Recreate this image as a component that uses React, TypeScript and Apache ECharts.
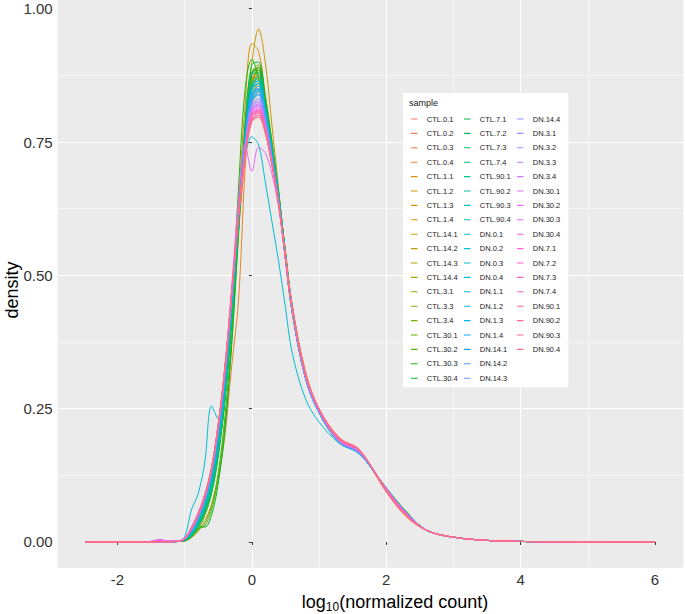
import React, { useEffect, useRef } from "react";
import * as echarts from "echarts";

const SAMPLES = [
  "CTL.0.1", "CTL.0.2", "CTL.0.3", "CTL.0.4", "CTL.1.1", "CTL.1.2", "CTL.1.3", "CTL.1.4",
  "CTL.14.1", "CTL.14.2", "CTL.14.3", "CTL.14.4", "CTL.3.1", "CTL.3.3", "CTL.3.4",
  "CTL.30.1", "CTL.30.2", "CTL.30.3", "CTL.30.4", "CTL.7.1", "CTL.7.2", "CTL.7.3", "CTL.7.4",
  "CTL.90.1", "CTL.90.2", "CTL.90.3", "CTL.90.4", "DN.0.1", "DN.0.2", "DN.0.3", "DN.0.4",
  "DN.1.1", "DN.1.2", "DN.1.3", "DN.1.4", "DN.14.1", "DN.14.2", "DN.14.3", "DN.14.4",
  "DN.3.1", "DN.3.2", "DN.3.3", "DN.3.4", "DN.30.1", "DN.30.2", "DN.30.3", "DN.30.4",
  "DN.7.1", "DN.7.2", "DN.7.3", "DN.7.4", "DN.90.1", "DN.90.2", "DN.90.3", "DN.90.4",
];

// samples with the small bump near -1.37
const BUMP_SAMPLES = ["DN.3.1", "DN.3.2", "DN.3.3", "DN.3.4", "DN.30.1", "DN.30.2", "DN.30.3", "DN.30.4", "DN.14.4"];

const X_LEFT = [-2.47, -1.8, -1.5, -1.37, -1.25, -1.1];
const LEFT_FLAT = [0, 0, 0, 0.0005, 0.0005, 0.001];
const LEFT_BUMP = [0, 0, 0.001, 0.004, 0.0015, 0.002];

const X_CORE = [-1.0, -0.9, -0.8, -0.7, -0.6, -0.5, -0.4, -0.3, -0.2, -0.1, 0, 0.1, 0.2, 0.3, 0.4, 0.5, 0.6, 0.8, 1.0, 1.3, 1.6, 2.0, 2.3];

const X_RIGHT = [2.6, 3.0, 3.5, 4.0, 5.0, 6.0];
const RIGHT_TAIL = [0.022, 0.009, 0.003, 0.001, 0.0002, 0];

// density values at X_CORE, one row per sample (same order as SAMPLES)
const CORE_VALUES: number[][] = [
  [0.004, 0.016, 0.038, 0.07, 0.115, 0.19, 0.29, 0.43, 0.59, 0.73, 0.83, 0.855, 0.8, 0.72, 0.64, 0.54, 0.44, 0.315, 0.25, 0.195, 0.172, 0.095, 0.048],
  [0.004, 0.015, 0.036, 0.068, 0.11, 0.185, 0.28, 0.42, 0.58, 0.72, 0.82, 0.845, 0.795, 0.72, 0.645, 0.545, 0.445, 0.32, 0.25, 0.196, 0.17, 0.094, 0.047],
  [0.003, 0.013, 0.033, 0.063, 0.105, 0.18, 0.28, 0.43, 0.6, 0.75, 0.85, 0.875, 0.81, 0.73, 0.645, 0.54, 0.44, 0.315, 0.248, 0.194, 0.171, 0.096, 0.049],
  [0.002, 0.008, 0.02, 0.04, 0.07, 0.12, 0.2, 0.33, 0.45, 0.7, 0.86, 0.885, 0.82, 0.74, 0.65, 0.545, 0.44, 0.315, 0.245, 0.193, 0.17, 0.096, 0.05],
  [0.003, 0.012, 0.03, 0.06, 0.1, 0.17, 0.27, 0.42, 0.59, 0.75, 0.86, 0.89, 0.83, 0.74, 0.65, 0.54, 0.44, 0.31, 0.245, 0.19, 0.17, 0.098, 0.052],
  [0.003, 0.011, 0.028, 0.055, 0.095, 0.165, 0.27, 0.43, 0.63, 0.82, 0.935, 0.92, 0.84, 0.75, 0.655, 0.54, 0.435, 0.31, 0.243, 0.19, 0.168, 0.097, 0.052],
  [0.003, 0.013, 0.032, 0.062, 0.1, 0.175, 0.275, 0.42, 0.59, 0.74, 0.85, 0.875, 0.82, 0.74, 0.65, 0.54, 0.44, 0.313, 0.246, 0.191, 0.17, 0.099, 0.053],
  [0.004, 0.014, 0.034, 0.065, 0.105, 0.18, 0.28, 0.425, 0.59, 0.735, 0.835, 0.86, 0.81, 0.735, 0.65, 0.545, 0.445, 0.315, 0.247, 0.19, 0.169, 0.098, 0.052],
  [0.003, 0.012, 0.03, 0.06, 0.1, 0.17, 0.27, 0.42, 0.6, 0.78, 0.9, 0.962, 0.9, 0.78, 0.66, 0.53, 0.43, 0.31, 0.245, 0.19, 0.168, 0.098, 0.053],
  [0.003, 0.013, 0.032, 0.062, 0.102, 0.175, 0.28, 0.43, 0.6, 0.755, 0.86, 0.88, 0.82, 0.74, 0.65, 0.54, 0.44, 0.312, 0.246, 0.19, 0.169, 0.1, 0.054],
  [0.004, 0.014, 0.034, 0.064, 0.105, 0.178, 0.28, 0.425, 0.595, 0.745, 0.85, 0.87, 0.815, 0.735, 0.648, 0.54, 0.44, 0.313, 0.246, 0.19, 0.17, 0.1, 0.054],
  [0.003, 0.012, 0.031, 0.06, 0.1, 0.172, 0.275, 0.425, 0.6, 0.76, 0.865, 0.885, 0.825, 0.74, 0.65, 0.538, 0.438, 0.31, 0.245, 0.19, 0.169, 0.1, 0.055],
  [0.003, 0.011, 0.028, 0.056, 0.095, 0.165, 0.265, 0.415, 0.595, 0.765, 0.875, 0.89, 0.83, 0.745, 0.652, 0.54, 0.438, 0.31, 0.244, 0.188, 0.168, 0.101, 0.056],
  [0.003, 0.012, 0.03, 0.058, 0.098, 0.17, 0.27, 0.42, 0.6, 0.76, 0.87, 0.88, 0.825, 0.742, 0.65, 0.54, 0.44, 0.311, 0.245, 0.188, 0.167, 0.1, 0.056],
  [0.004, 0.013, 0.032, 0.062, 0.1, 0.172, 0.272, 0.42, 0.595, 0.75, 0.855, 0.87, 0.82, 0.74, 0.65, 0.54, 0.44, 0.312, 0.245, 0.189, 0.168, 0.1, 0.055],
  [0.002, 0.012, 0.025, 0.03, 0.06, 0.12, 0.22, 0.37, 0.57, 0.76, 0.88, 0.895, 0.835, 0.75, 0.655, 0.54, 0.438, 0.31, 0.244, 0.187, 0.167, 0.102, 0.057],
  [0.002, 0.01, 0.022, 0.035, 0.068, 0.13, 0.235, 0.39, 0.58, 0.765, 0.88, 0.89, 0.83, 0.745, 0.652, 0.54, 0.438, 0.31, 0.244, 0.187, 0.167, 0.101, 0.056],
  [0.002, 0.009, 0.024, 0.05, 0.09, 0.16, 0.27, 0.44, 0.66, 0.85, 0.905, 0.87, 0.8, 0.725, 0.645, 0.54, 0.44, 0.31, 0.243, 0.186, 0.166, 0.101, 0.056],
  [0.002, 0.012, 0.03, 0.028, 0.05, 0.11, 0.21, 0.37, 0.58, 0.79, 0.895, 0.9, 0.83, 0.745, 0.65, 0.54, 0.438, 0.31, 0.243, 0.186, 0.166, 0.1, 0.056],
  [0.003, 0.012, 0.03, 0.058, 0.098, 0.168, 0.27, 0.42, 0.6, 0.77, 0.88, 0.885, 0.825, 0.742, 0.65, 0.54, 0.44, 0.31, 0.244, 0.187, 0.167, 0.1, 0.055],
  [0.003, 0.013, 0.031, 0.06, 0.1, 0.17, 0.272, 0.42, 0.595, 0.755, 0.86, 0.875, 0.82, 0.74, 0.65, 0.54, 0.44, 0.311, 0.245, 0.188, 0.168, 0.1, 0.055],
  [0.003, 0.012, 0.03, 0.057, 0.096, 0.166, 0.268, 0.418, 0.6, 0.77, 0.878, 0.88, 0.82, 0.738, 0.648, 0.54, 0.44, 0.31, 0.244, 0.187, 0.167, 0.101, 0.056],
  [0.004, 0.014, 0.033, 0.063, 0.103, 0.175, 0.278, 0.425, 0.6, 0.75, 0.85, 0.865, 0.815, 0.738, 0.65, 0.54, 0.44, 0.312, 0.246, 0.189, 0.168, 0.1, 0.055],
  [0.004, 0.015, 0.035, 0.066, 0.108, 0.18, 0.285, 0.43, 0.6, 0.745, 0.845, 0.86, 0.81, 0.735, 0.648, 0.54, 0.44, 0.312, 0.246, 0.188, 0.168, 0.1, 0.055],
  [0.003, 0.013, 0.032, 0.062, 0.102, 0.174, 0.276, 0.424, 0.6, 0.755, 0.858, 0.87, 0.815, 0.738, 0.65, 0.54, 0.44, 0.311, 0.245, 0.188, 0.167, 0.1, 0.055],
  [0.004, 0.015, 0.036, 0.068, 0.11, 0.184, 0.288, 0.432, 0.6, 0.74, 0.835, 0.85, 0.805, 0.732, 0.648, 0.542, 0.442, 0.313, 0.246, 0.189, 0.168, 0.099, 0.054],
  [0.004, 0.016, 0.038, 0.07, 0.114, 0.19, 0.295, 0.44, 0.605, 0.74, 0.83, 0.845, 0.8, 0.73, 0.647, 0.542, 0.442, 0.314, 0.247, 0.189, 0.168, 0.099, 0.054],
  [0.005, 0.02, 0.045, 0.08, 0.13, 0.21, 0.32, 0.46, 0.62, 0.75, 0.84, 0.855, 0.8, 0.72, 0.635, 0.53, 0.43, 0.305, 0.242, 0.186, 0.166, 0.1, 0.055],
  [0.005, 0.019, 0.044, 0.078, 0.126, 0.205, 0.31, 0.455, 0.615, 0.748, 0.838, 0.85, 0.798, 0.72, 0.636, 0.53, 0.432, 0.306, 0.243, 0.187, 0.166, 0.1, 0.055],
  [0.01, 0.06, 0.09, 0.15, 0.255, 0.23, 0.33, 0.47, 0.62, 0.72, 0.76, 0.745, 0.675, 0.6, 0.525, 0.44, 0.355, 0.268, 0.225, 0.185, 0.165, 0.1, 0.055],
  [0.005, 0.02, 0.046, 0.08, 0.128, 0.208, 0.315, 0.455, 0.61, 0.74, 0.83, 0.845, 0.795, 0.72, 0.637, 0.532, 0.433, 0.307, 0.243, 0.187, 0.167, 0.1, 0.055],
  [0.005, 0.019, 0.043, 0.077, 0.125, 0.2, 0.305, 0.45, 0.615, 0.755, 0.85, 0.86, 0.805, 0.725, 0.64, 0.533, 0.433, 0.307, 0.243, 0.187, 0.166, 0.1, 0.055],
  [0.005, 0.02, 0.045, 0.08, 0.13, 0.21, 0.318, 0.46, 0.62, 0.75, 0.84, 0.85, 0.8, 0.722, 0.638, 0.532, 0.433, 0.307, 0.243, 0.187, 0.166, 0.1, 0.055],
  [0.005, 0.021, 0.047, 0.082, 0.132, 0.212, 0.32, 0.46, 0.615, 0.742, 0.828, 0.84, 0.792, 0.718, 0.636, 0.532, 0.434, 0.308, 0.244, 0.188, 0.167, 0.099, 0.055],
  [0.004, 0.018, 0.042, 0.075, 0.122, 0.198, 0.302, 0.448, 0.615, 0.76, 0.855, 0.865, 0.808, 0.726, 0.64, 0.533, 0.433, 0.306, 0.243, 0.187, 0.166, 0.1, 0.055],
  [0.005, 0.02, 0.045, 0.079, 0.128, 0.207, 0.313, 0.455, 0.612, 0.745, 0.835, 0.848, 0.798, 0.72, 0.637, 0.532, 0.433, 0.307, 0.243, 0.187, 0.167, 0.1, 0.055],
  [0.005, 0.021, 0.046, 0.081, 0.13, 0.21, 0.316, 0.458, 0.612, 0.74, 0.825, 0.838, 0.79, 0.716, 0.635, 0.531, 0.434, 0.308, 0.244, 0.188, 0.167, 0.099, 0.054],
  [0.005, 0.02, 0.044, 0.078, 0.127, 0.205, 0.31, 0.452, 0.61, 0.745, 0.838, 0.85, 0.8, 0.722, 0.638, 0.532, 0.433, 0.307, 0.243, 0.187, 0.166, 0.1, 0.055],
  [0.006, 0.022, 0.048, 0.083, 0.133, 0.213, 0.318, 0.46, 0.612, 0.738, 0.82, 0.832, 0.788, 0.715, 0.635, 0.532, 0.435, 0.309, 0.245, 0.188, 0.168, 0.1, 0.054],
  [0.007, 0.025, 0.05, 0.085, 0.135, 0.215, 0.32, 0.46, 0.61, 0.735, 0.815, 0.825, 0.783, 0.712, 0.634, 0.532, 0.436, 0.31, 0.246, 0.189, 0.169, 0.1, 0.054],
  [0.007, 0.026, 0.052, 0.087, 0.137, 0.217, 0.322, 0.462, 0.61, 0.73, 0.81, 0.82, 0.78, 0.71, 0.633, 0.532, 0.436, 0.31, 0.246, 0.19, 0.17, 0.1, 0.053],
  [0.006, 0.024, 0.049, 0.084, 0.134, 0.214, 0.319, 0.46, 0.612, 0.738, 0.818, 0.828, 0.785, 0.713, 0.634, 0.532, 0.435, 0.31, 0.246, 0.189, 0.169, 0.1, 0.054],
  [0.007, 0.025, 0.051, 0.086, 0.136, 0.216, 0.321, 0.461, 0.61, 0.732, 0.812, 0.822, 0.781, 0.711, 0.633, 0.532, 0.436, 0.31, 0.246, 0.19, 0.17, 0.1, 0.053],
  [0.007, 0.026, 0.052, 0.088, 0.138, 0.218, 0.324, 0.463, 0.61, 0.728, 0.805, 0.815, 0.777, 0.71, 0.633, 0.533, 0.437, 0.311, 0.247, 0.19, 0.17, 0.099, 0.053],
  [0.008, 0.028, 0.055, 0.09, 0.14, 0.22, 0.33, 0.48, 0.64, 0.745, 0.695, 0.74, 0.73, 0.69, 0.625, 0.53, 0.437, 0.312, 0.248, 0.191, 0.171, 0.099, 0.053],
  [0.007, 0.025, 0.051, 0.086, 0.136, 0.216, 0.322, 0.462, 0.61, 0.73, 0.808, 0.818, 0.779, 0.711, 0.634, 0.533, 0.437, 0.311, 0.247, 0.19, 0.17, 0.099, 0.053],
  [0.007, 0.026, 0.053, 0.088, 0.138, 0.219, 0.325, 0.464, 0.61, 0.727, 0.802, 0.812, 0.775, 0.709, 0.633, 0.533, 0.437, 0.312, 0.247, 0.191, 0.171, 0.099, 0.053],
  [0.006, 0.024, 0.05, 0.086, 0.137, 0.218, 0.325, 0.465, 0.612, 0.728, 0.8, 0.808, 0.772, 0.708, 0.633, 0.534, 0.438, 0.313, 0.248, 0.191, 0.171, 0.098, 0.052],
  [0.006, 0.025, 0.051, 0.087, 0.138, 0.22, 0.327, 0.466, 0.61, 0.724, 0.795, 0.804, 0.77, 0.707, 0.633, 0.534, 0.438, 0.313, 0.248, 0.192, 0.172, 0.098, 0.052],
  [0.006, 0.024, 0.05, 0.085, 0.136, 0.217, 0.324, 0.464, 0.612, 0.73, 0.803, 0.81, 0.774, 0.709, 0.633, 0.534, 0.438, 0.313, 0.248, 0.191, 0.171, 0.098, 0.052],
  [0.006, 0.025, 0.052, 0.088, 0.14, 0.222, 0.33, 0.468, 0.61, 0.722, 0.79, 0.8, 0.768, 0.706, 0.633, 0.535, 0.439, 0.314, 0.249, 0.192, 0.172, 0.097, 0.051],
  [0.006, 0.024, 0.05, 0.086, 0.137, 0.219, 0.326, 0.466, 0.612, 0.727, 0.797, 0.805, 0.771, 0.708, 0.634, 0.535, 0.439, 0.314, 0.249, 0.193, 0.172, 0.096, 0.05],
  [0.006, 0.025, 0.051, 0.087, 0.139, 0.221, 0.328, 0.467, 0.61, 0.723, 0.792, 0.8, 0.768, 0.707, 0.634, 0.536, 0.44, 0.315, 0.25, 0.194, 0.173, 0.095, 0.049],
  [0.006, 0.024, 0.05, 0.085, 0.136, 0.218, 0.325, 0.465, 0.612, 0.728, 0.8, 0.807, 0.772, 0.708, 0.634, 0.535, 0.439, 0.314, 0.249, 0.193, 0.172, 0.096, 0.05],
  [0.006, 0.025, 0.052, 0.088, 0.14, 0.222, 0.33, 0.468, 0.61, 0.72, 0.788, 0.796, 0.766, 0.706, 0.634, 0.536, 0.44, 0.315, 0.25, 0.195, 0.174, 0.094, 0.048],
];

const X_TICKS = [-2, 0, 2, 4, 6];
const Y_TICKS = [0, 0.25, 0.5, 0.75, 1.0];

const FONT = "'Liberation Sans', Arial, Helvetica, sans-serif";

// legend key: a thin horizontal line at the right of a 17x10 box (tiny corner dots fix the box)
const KEY_ICON =
  "path://M0,0 L0.01,0 L0.01,0.01 Z M4,8.9 L17,8.9 L17,11.1 L4,11.1 Z M16.99,19.99 L17,19.99 L17,20 Z";

// ggplot2 default hue palette (hcl, c = 100, l = 65)
function hcl2hex(h: number, c: number, l: number): string {
  const WY = 100.0, Wu = 0.1978398, Wv = 0.4683363;
  const hr = (h * Math.PI) / 180;
  const U = c * Math.cos(hr);
  const V = c * Math.sin(hr);
  const Y = WY * (l > 7.999592 ? Math.pow((l + 16) / 116, 3) : l / 903.3);
  const u = U / (13 * l) + Wu;
  const v = V / (13 * l) + Wv;
  const X = (9.0 * Y * u) / (4 * v);
  const Z = -X / 3 - 5 * Y + (3 * Y) / v;
  const g = (t: number) => (t > 0.00304 ? 1.055 * Math.pow(t, 1 / 2.4) - 0.055 : 12.92 * t);
  const r = g((3.240479 * X - 1.53715 * Y - 0.498535 * Z) / WY);
  const gg = g((-0.969256 * X + 1.875992 * Y + 0.041556 * Z) / WY);
  const b = g((0.055648 * X - 0.204043 * Y + 1.057311 * Z) / WY);
  const to = (t: number) => {
    const n = Math.round(Math.min(1, Math.max(0, t)) * 255);
    return n.toString(16).padStart(2, "0");
  };
  return "#" + to(r) + to(gg) + to(b);
}

function huePalette(n: number): string[] {
  const out: string[] = [];
  for (let i = 0; i < n; i++) {
    const h = 15 + (360 * i) / n;
    out.push(hcl2hex(h % 360, 100, 65));
  }
  return out;
}

export default function App() {
  const ref = useRef<HTMLDivElement>(null);

  useEffect(() => {
    if (!ref.current) return;
    const chart = echarts.init(ref.current, undefined, { renderer: "svg" });
    const colors = huePalette(SAMPLES.length);

    const series = SAMPLES.map((name, i) => {
      const left = BUMP_SAMPLES.includes(name) ? LEFT_BUMP : LEFT_FLAT;
      const data: number[][] = [];
      X_LEFT.forEach((x, j) => data.push([x, left[j]]));
      X_CORE.forEach((x, j) => data.push([x, CORE_VALUES[i][j]]));
      X_RIGHT.forEach((x, j) => data.push([x, RIGHT_TAIL[j]]));
      return {
        name,
        type: "line",
        data,
        symbol: "none",
        showSymbol: false,
        smooth: 0.35,
        lineStyle: { width: 1, color: colors[i] },
        itemStyle: { color: colors[i] },
        emphasis: { disabled: true },
        z: 2,
      };
    });

    const option: any = {
      animation: false,
      backgroundColor: "#ffffff",
      color: colors,
      grid: {
        left: 57.6,
        right: 1.6,
        top: 0,
        bottom: 46.2,
        show: true,
        backgroundColor: "#EBEBEB",
        borderWidth: 0,
        containLabel: false,
      },
      xAxis: {
        type: "value",
        min: -2.891,
        max: 6.423,
        minInterval: 2,
        maxInterval: 2,
        axisLine: { show: false },
        axisTick: {
          show: true,
          length: 3,
          customValues: X_TICKS,
          lineStyle: { color: "#333333", width: 1 },
        },
        axisLabel: {
          customValues: X_TICKS,
          margin: 4,
          color: "#333333",
          fontSize: 15,
          fontFamily: FONT,
          formatter: (v: number) => String(v),
        },
        splitLine: {
          show: true,
          showMinLine: false,
          showMaxLine: false,
          lineStyle: { color: "#ffffff", width: 1.1 },
        },
        minorTick: { show: false, splitNumber: 2 },
        minorSplitLine: { show: true, lineStyle: { color: "#ffffff", width: 0.55 } },
      },
      yAxis: {
        type: "value",
        min: -0.0484,
        max: 1.0164,
        minInterval: 0.25,
        maxInterval: 0.25,
        axisLine: { show: false },
        axisTick: {
          show: true,
          length: 3,
          customValues: Y_TICKS,
          lineStyle: { color: "#333333", width: 1 },
        },
        axisLabel: {
          customValues: Y_TICKS,
          margin: 5,
          color: "#333333",
          fontSize: 15,
          fontFamily: FONT,
          formatter: (v: number) => v.toFixed(2),
        },
        splitLine: {
          show: true,
          showMinLine: false,
          showMaxLine: false,
          lineStyle: { color: "#ffffff", width: 1.1 },
        },
        minorTick: { show: false, splitNumber: 2 },
        minorSplitLine: { show: true, lineStyle: { color: "#ffffff", width: 0.55 } },
      },
      legend: {
        show: true,
        orient: "vertical",
        left: 403,
        top: 93,
        height: 272,
        padding: [21, 8, 4, 6],
        itemGap: 4.4,
        itemWidth: 17,
        itemHeight: 10,
        icon: KEY_ICON,
        backgroundColor: "#ffffff",
        selectedMode: false,
        data: SAMPLES,
        textStyle: { fontSize: 7.5, color: "#1a1a1a", fontFamily: FONT },
      },
      graphic: [
        {
          type: "text",
          left: 409,
          top: 98,
          z: 100,
          style: { text: "sample", fontSize: 9, fill: "#1a1a1a", fontFamily: FONT },
        },
        {
          type: "text",
          x: 12,
          y: 290,
          rotation: Math.PI / 2,
          z: 100,
          style: {
            text: "density",
            fontSize: 18,
            fill: "#000000",
            fontFamily: FONT,
            align: "center",
            verticalAlign: "middle",
          },
        },
        {
          type: "text",
          x: 395,
          y: 602,
          z: 100,
          style: {
            text: "{a|log}{s|10}{a|(normalized count)}",
            align: "center",
            verticalAlign: "middle",
            fill: "#000000",
            rich: {
              a: { fontSize: 18, fontFamily: FONT, fill: "#000000", color: "#000000" },
              s: { fontSize: 12, fontFamily: FONT, fill: "#000000", color: "#000000", padding: [10, 0, 0, 0] },
            },
          },
        },
      ],
      series,
    };

    chart.setOption(option);
    return () => chart.dispose();
  }, []);

  return (
    <div
      ref={ref}
      style={{ position: "absolute", left: 0, top: 0, width: 685, height: 614 }}
    />
  );
}
